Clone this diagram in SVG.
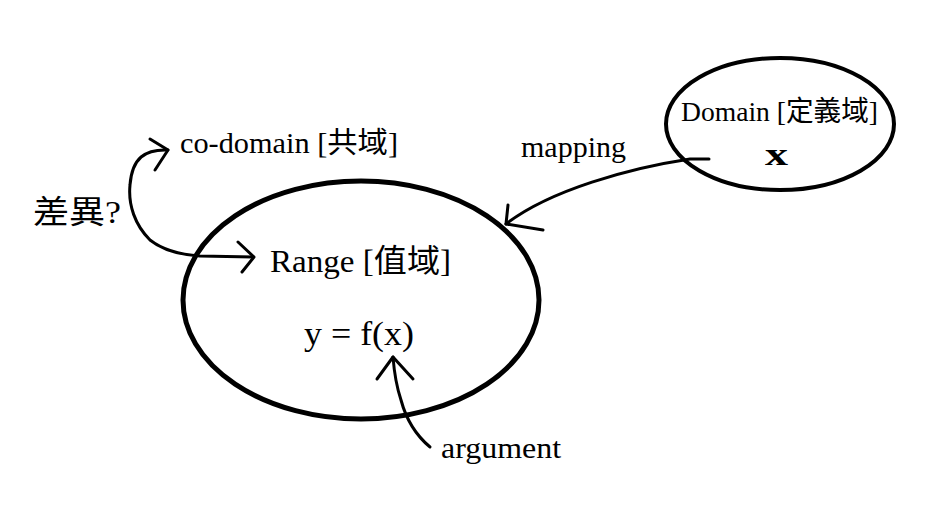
<svg xmlns="http://www.w3.org/2000/svg" width="932" height="532" viewBox="0 0 932 532">
<style>
.t{font-family:"Liberation Serif","Noto Sans CJK TC",serif;fill:#000}
.e{fill:none;stroke:#000}
.c{fill:none;stroke:#000;stroke-width:3;stroke-linecap:round;stroke-linejoin:round}
</style>
<rect width="932" height="532" fill="#fff"/>
<g id="range">
<ellipse class="e" cx="361" cy="300" rx="178" ry="119" stroke-width="5"/>
<text class="t" x="270" y="272" font-size="32" textLength="181" lengthAdjust="spacingAndGlyphs">Range [值域]</text>
<text class="t" x="304" y="345" font-size="33" textLength="110" lengthAdjust="spacingAndGlyphs">y = f(x)</text>
</g>
<g id="domain">
<ellipse class="e" cx="780" cy="124" rx="114" ry="66" stroke-width="4"/>
<text class="t" x="681" y="121" font-size="28" textLength="197" lengthAdjust="spacingAndGlyphs">Domain [定義域]</text>
<text class="t" x="765" y="165" font-size="31" font-weight="bold" textLength="23" lengthAdjust="spacingAndGlyphs">x</text>
</g>
<g id="codomain"><text class="t" x="180" y="153" font-size="29" textLength="218" lengthAdjust="spacingAndGlyphs">co-domain [共域]</text></g>
<g id="question"><text class="t" x="33" y="223" font-size="32" textLength="88" lengthAdjust="spacingAndGlyphs">差異?</text></g>
<g id="mapping"><text class="t" x="521" y="157" font-size="29" textLength="105" lengthAdjust="spacingAndGlyphs">mapping</text></g>
<g id="argument"><text class="t" x="441" y="458" font-size="30" textLength="120" lengthAdjust="spacingAndGlyphs">argument</text></g>
<g id="connectors">
<path class="c" d="M709,159 L690,159 C630,168 550,190 506,224"/>
<path class="c" d="M508,205 L506,224 L543,230"/>
<path class="c" d="M168,150 C145,149 132,158 130,185 C128,205 135,225 150,240 C165,252 185,255 200,256 L253,257"/>
<path class="c" d="M150,139 L168,150 L155,170"/>
<path class="c" d="M238,242 L254,257 L242,272"/>
<path class="c" d="M430,447 C412,432 405,415 401,400 C396,385 394,370 393,357"/>
<path class="c" d="M377,379 L393,357 L413,379"/>
</g>
</svg>
